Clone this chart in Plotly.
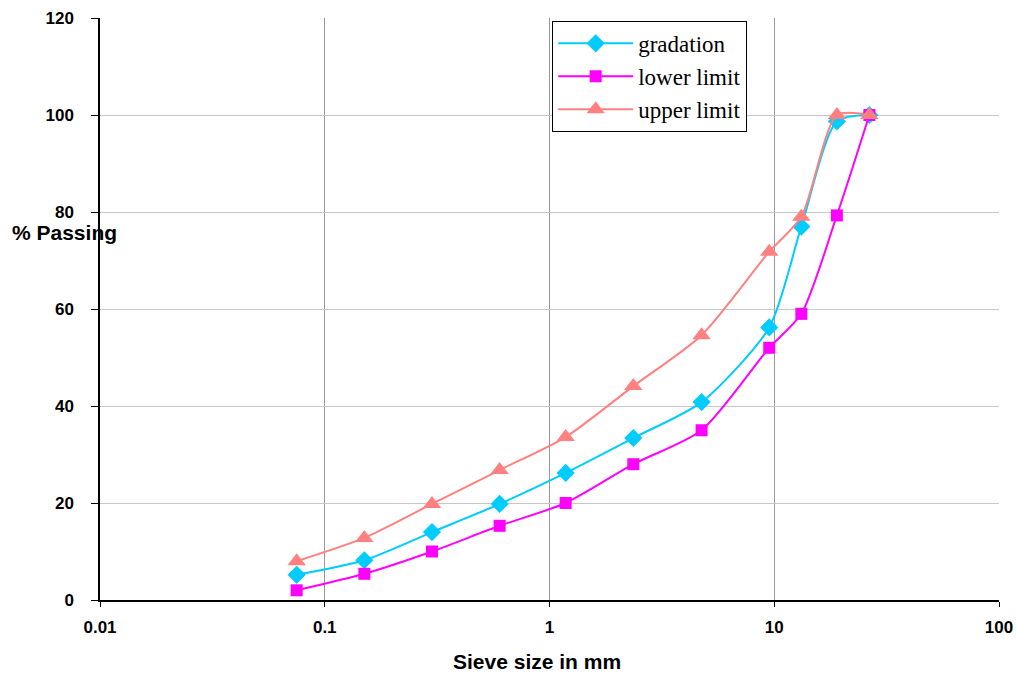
import plotly.graph_objects as go

sieve = [0.075, 0.15, 0.3, 0.6, 1.18, 2.36, 4.75, 9.5, 13.2, 19, 26.5]
gradation = [5.2, 8.2, 14.0, 19.8, 26.2, 33.4, 40.8, 56.2, 77.0, 98.7, 100]
lower = [2.0, 5.4, 10.0, 15.3, 20.0, 28.0, 35.0, 52.0, 59.0, 79.3, 100]
upper = [8.0, 12.8, 19.8, 26.8, 33.6, 44.1, 54.6, 71.8, 79.0, 100, 100]

x_ticks = [0.01, 0.1, 1, 10, 100]
x_labels = ["0.01", "0.1", "1", "10", "100"]
y_ticks = [0, 20, 40, 60, 80, 100, 120]

fig = go.Figure()
fig.add_trace(go.Scatter(x=sieve, y=gradation, name="gradation", mode="lines+markers",
                         line=dict(color="#00CCFF", width=2, shape="spline", smoothing=0.7),
                         marker=dict(symbol="diamond", size=14, color="#00CCFF")))
fig.add_trace(go.Scatter(x=sieve, y=lower, name="lower limit", mode="lines+markers",
                         line=dict(color="#FF00FF", width=2, shape="spline", smoothing=0.7),
                         marker=dict(symbol="square", size=12, color="#FF00FF")))
fig.add_trace(go.Scatter(x=sieve, y=upper, name="upper limit", mode="lines+markers",
                         line=dict(color="#FF8080", width=2, shape="spline", smoothing=0.7),
                         marker=dict(symbol="triangle-up", size=16, color="#FF8080")))

tick_font = dict(family="Liberation Sans, Arial", size=17, color="black", weight="bold")
fig.update_layout(
    width=1017, height=673,
    margin=dict(l=100, r=18, t=18, b=73, autoexpand=False),
    plot_bgcolor="white", paper_bgcolor="white",
    showlegend=True,
    legend=dict(x=0.503, y=0.995, xanchor="left", yanchor="top",
                bordercolor="black", borderwidth=1, bgcolor="white",
                font=dict(family="Liberation Serif, Times New Roman", size=23, color="black"),
                tracegroupgap=0, itemwidth=75),
    xaxis=dict(type="log", range=[-2, 2], tickvals=x_ticks, ticktext=x_labels,
               automargin=False,
               showgrid=True, gridcolor="#999999", gridwidth=1,
               showline=True, linecolor="black", linewidth=1.5,
               ticks="outside", ticklen=5, tickcolor="black",
               ticklabelstandoff=6,
               tickfont=tick_font, zeroline=False),
    yaxis=dict(range=[0, 120], tickvals=y_ticks,
               automargin=False,
               showgrid=True, gridcolor="#C8C8C8", gridwidth=1,
               showline=True, linecolor="black", linewidth=1.5,
               ticks="outside", ticklen=7, tickcolor="black",
               ticklabelstandoff=14,
               tickfont=tick_font, zeroline=False),
    annotations=[
        dict(text="<b>% Passing</b>", xref="paper", yref="paper",
             x=-0.1001, y=0.6306, xanchor="left", yanchor="middle",
             showarrow=False, font=dict(family="Liberation Sans, Arial", size=21, color="black")),
        dict(text="<b>Sieve size in mm</b>", xref="paper", yref="paper",
             x=0.486, y=0, yshift=-61, xanchor="center", yanchor="middle",
             showarrow=False, font=dict(family="Liberation Sans, Arial", size=21, color="black")),
    ],
)
fig.write_html("out.html", config={"displayModeBar": False},
               post_script="document.body.style.margin='0';document.body.style.overflow='hidden';")
